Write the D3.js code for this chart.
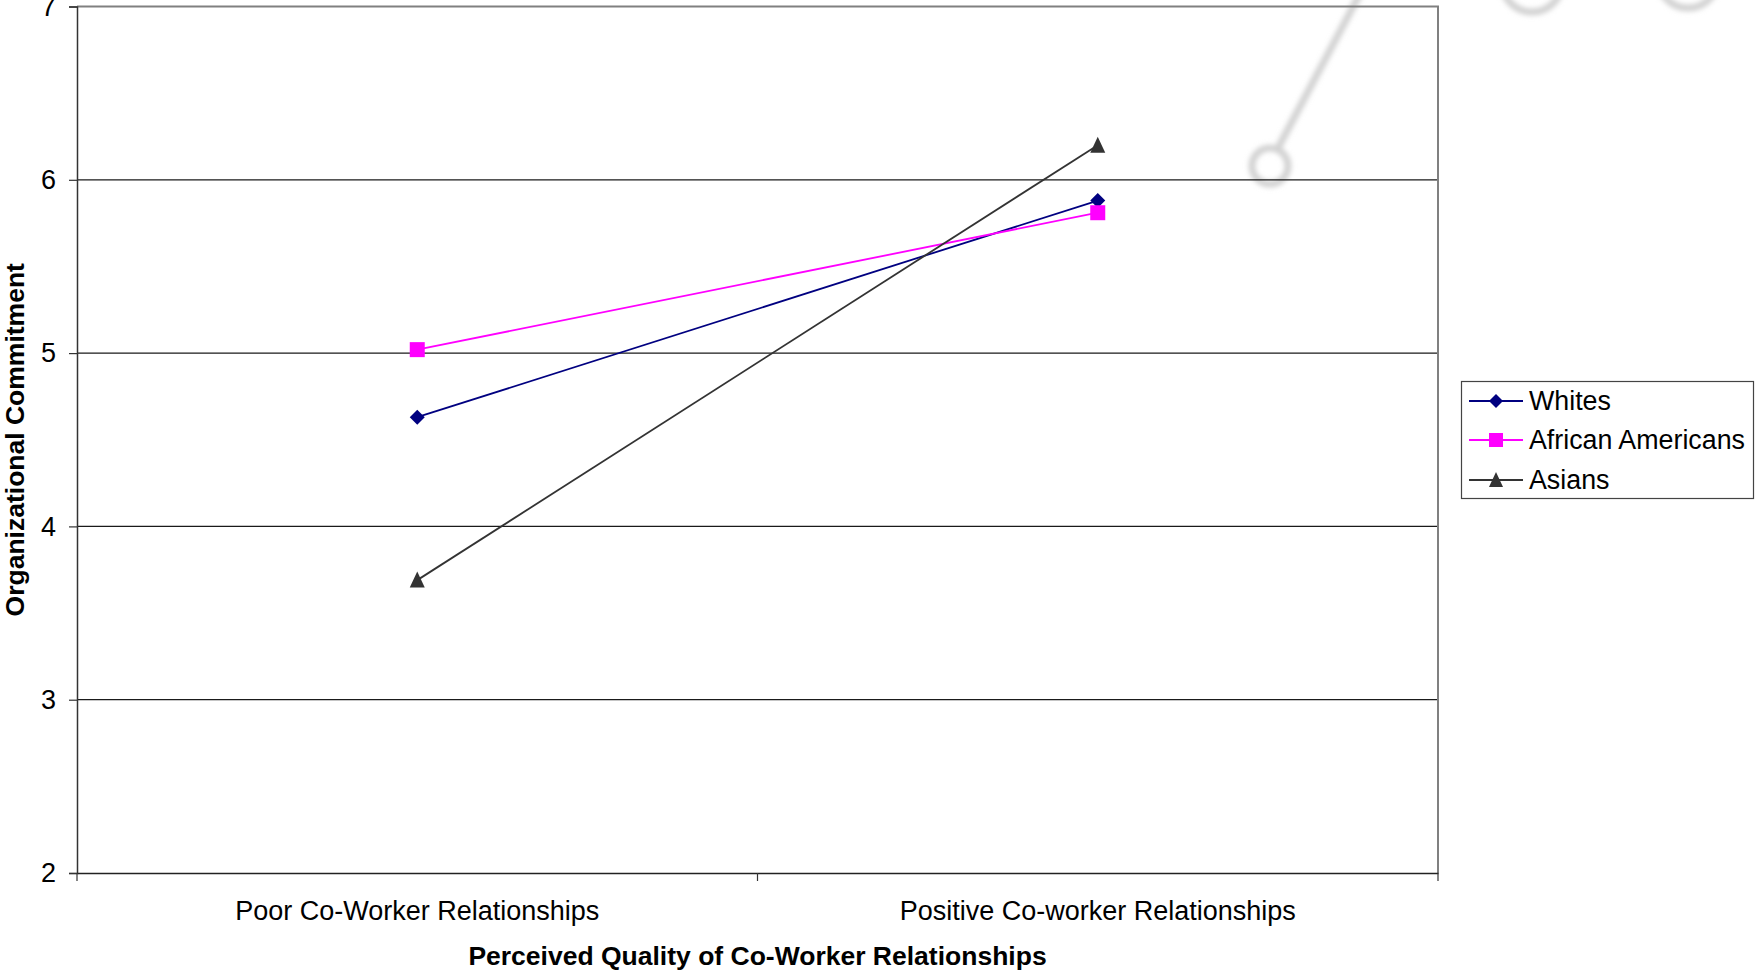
<!DOCTYPE html>
<html><head><meta charset="utf-8">
<script src="https://cdn.jsdelivr.net/npm/d3@7"></script>
<style>
html,body{margin:0;padding:0;background:#fff;}
svg{display:block;font-family:"Liberation Sans",Arial,sans-serif;}
</style></head>
<body>
<svg id="chart" width="1755" height="972"></svg>
<script>
const categories = ["Poor Co-Worker Relationships", "Positive Co-worker Relationships"];
const seriesNames = ["Whites", "African Americans", "Asians"];
const whites = [4.63, 5.88];
const africanAmericans = [5.02, 5.81];
const asians = [3.69, 6.20];
const yTicks = [2, 3, 4, 5, 6, 7];
const xTitle = "Perceived Quality of Co-Worker Relationships";
const yTitle = "Organizational Commitment";

const series = [
  {name: seriesNames[0], values: whites, color: "#000080", shape: "diamond"},
  {name: seriesNames[1], values: africanAmericans, color: "#FF00FF", shape: "square"},
  {name: seriesNames[2], values: asians, color: "#333333", shape: "triangle"}
];

const svg = d3.select("#chart");
const L = 77, R = 1438, T = 6.5, B = 873;

// faint watermark
const defs = svg.append("defs");
defs.append("filter").attr("id","blur").append("feGaussianBlur").attr("stdDeviation", 2.5);
const wm = svg.append("g").attr("filter","url(#blur)").attr("fill","none")
  .attr("stroke","#d2d2d2").attr("stroke-width",7);
wm.append("line").attr("x1",1278).attr("y1",148).attr("x2",1362).attr("y2",-10);
wm.append("circle").attr("cx",1270).attr("cy",166).attr("r",18);
wm.append("circle").attr("cx",1532).attr("cy",-18).attr("r",30);
wm.append("circle").attr("cx",1688).attr("cy",-22).attr("r",30);

const x = d3.scaleBand().domain(categories).range([L, R]).padding(0);
const y = d3.scaleLinear().domain([2, 7]).range([B, T]);

// gridlines
svg.append("g").selectAll("line").data(yTicks.filter(t => t > 2 && t < 7)).join("line")
  .attr("x1", L).attr("x2", R).attr("y1", d => y(d)).attr("y2", d => y(d))
  .attr("stroke", "#1a1a1a").attr("stroke-width", 1.2);

// top and right border
svg.append("line").attr("x1", L).attr("x2", R + 1).attr("y1", y(7)).attr("y2", y(7))
  .attr("stroke", "#808080").attr("stroke-width", 2);
svg.append("line").attr("x1", R).attr("x2", R).attr("y1", y(7)).attr("y2", B)
  .attr("stroke", "#808080").attr("stroke-width", 2);

// y axis
const yAxis = d3.axisLeft(y).tickValues(yTicks).tickFormat(d3.format("d")).tickSize(8).tickPadding(13);
const gy = svg.append("g").attr("transform", `translate(${L},0)`).call(yAxis);
gy.select(".domain").attr("stroke", "#333").attr("stroke-width", 1.5);
gy.selectAll(".tick line").attr("stroke", "#333").attr("stroke-width", 1.2);
gy.selectAll(".tick text").attr("font-size", 27).attr("fill", "#000")
  .attr("font-family", "'Liberation Sans', Arial, sans-serif");

// x axis
const xAxis = d3.axisBottom(x).tickSize(0).tickPadding(0);
const gx = svg.append("g").attr("transform", `translate(0,${B})`).call(xAxis);
gx.select(".domain").attr("stroke", "#222").attr("stroke-width", 1.6);
gx.selectAll(".tick text").attr("font-size", 27).attr("fill", "#000").attr("dy", null).attr("y", 47)
  .attr("font-family", "'Liberation Sans', Arial, sans-serif");
// x ticks at band boundaries
const bounds = [L, ...categories.map(c => x(c) + x.bandwidth())];
svg.append("g").selectAll("line").data(bounds).join("line")
  .attr("x1", d => d).attr("x2", d => d).attr("y1", B).attr("y2", B + 8)
  .attr("stroke", "#333").attr("stroke-width", 1.2);

// axis titles
svg.append("text").attr("x", (L + R) / 2).attr("y", 965).attr("text-anchor", "middle")
  .attr("font-size", 26.5).attr("font-weight", "bold").text(xTitle);
svg.append("text").attr("transform", `translate(24,${(T + B) / 2}) rotate(-90)`).attr("text-anchor", "middle")
  .attr("font-size", 26.5).attr("font-weight", "bold").text(yTitle);

function markerPath(shape, s) {
  if (shape === "diamond") return `M0,${-s}L${s},0L0,${s}L${-s},0Z`;
  if (shape === "square") return `M${-s},${-s}H${s}V${s}H${-s}Z`;
  return `M0,${-s - 1}L${s},${s}L${-s},${s}Z`;
}

const line = d3.line().x((d, i) => x(categories[i]) + x.bandwidth() / 2).y(d => y(d));
series.forEach(s => {
  const g = svg.append("g");
  g.append("path").attr("d", line(s.values)).attr("fill", "none")
    .attr("stroke", s.color).attr("stroke-width", 1.8);
  g.selectAll("path.m").data(s.values).join("path").attr("class", "m")
    .attr("transform", (d, i) => `translate(${x(categories[i]) + x.bandwidth() / 2},${y(d)})`)
    .attr("d", markerPath(s.shape, 7.5)).attr("fill", s.color);
});

// legend
const lg = svg.append("g");
lg.append("rect").attr("x", 1461.5).attr("y", 381.5).attr("width", 292).attr("height", 117)
  .attr("fill", "#fff").attr("stroke", "#444").attr("stroke-width", 1.2);
const rowY = [401, 440, 480];
series.forEach((s, i) => {
  lg.append("line").attr("x1", 1469).attr("x2", 1523).attr("y1", rowY[i]).attr("y2", rowY[i])
    .attr("stroke", s.color).attr("stroke-width", 1.8);
  lg.append("path").attr("transform", `translate(1496,${rowY[i]})`)
    .attr("d", markerPath(s.shape, 7)).attr("fill", s.color);
  lg.append("text").attr("x", 1529).attr("y", rowY[i]).attr("dy", "0.35em")
    .attr("font-size", 26.8).attr("fill", "#000").text(s.name);
});
</script>
</body></html>
